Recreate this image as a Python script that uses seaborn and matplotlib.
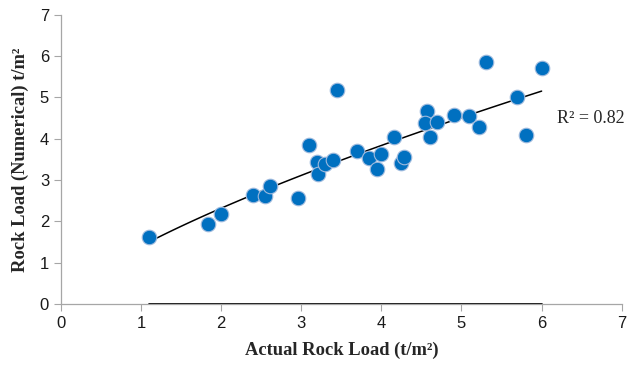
import numpy as np
import pandas as pd
import matplotlib
matplotlib.use('Agg')
import matplotlib.pyplot as plt
import seaborn as sns

# values
actual_load = [1.10, 1.83, 2.00, 2.40, 2.55, 2.61, 2.96, 3.10, 3.20, 3.21, 3.30, 3.40,
               3.45, 3.70, 3.84, 3.94, 4.00, 4.16, 4.25, 4.28, 4.57, 4.55, 4.61, 4.70,
               4.91, 5.09, 5.22, 5.31, 5.69, 5.81, 6.00]
numerical_load = [1.63, 1.93, 2.17, 2.63, 2.62, 2.86, 2.56, 3.85, 3.44, 3.15, 3.39, 3.48,
                  5.18, 3.71, 3.54, 3.27, 3.64, 4.05, 3.41, 3.57, 4.68, 4.38, 4.05, 4.40,
                  4.57, 4.56, 4.28, 5.86, 5.01, 4.08, 5.72]
r2_label = 'R² = 0.82'
x_ticks = list(range(0, 8))
y_ticks = list(range(0, 8))

df = pd.DataFrame({'actual': actual_load, 'numerical': numerical_load})

# power trendline (y = a * x^b), fitted in log space like a spreadsheet trendline
b, log_a = np.polyfit(np.log(df['actual']), np.log(df['numerical']), 1)
trend = pd.DataFrame({'actual': np.linspace(df['actual'].min(), df['actual'].max(), 100)})
trend['numerical'] = np.exp(log_a) * trend['actual'] ** b

sns.set_style('white')
plt.rcParams['font.family'] = ['Liberation Sans', 'DejaVu Sans']

fig = plt.figure(figsize=(6.28, 3.72), dpi=100)
ax = fig.add_axes([0.097, 0.183, 0.893, 0.777])

sns.lineplot(data=trend, x='actual', y='numerical', ax=ax, color='black', lw=1.1)
sns.scatterplot(data=df, x='actual', y='numerical', ax=ax, s=110, color='#0070C0',
                edgecolor='#9DB9DD', linewidth=0.8, zorder=3)
# second (zero) series drawn as a flat line along the x-axis
ax.plot([df['actual'].min(), df['actual'].max()], [0, 0], color='black', lw=1.2, zorder=4)

ax.set_xlim(0, 7)
ax.set_ylim(0, 7)
ax.set_xticks(x_ticks)
ax.set_yticks(y_ticks)
ax.tick_params(axis='both', direction='out', length=5, width=0.8, color='#A6A6A6',
               labelsize=12, labelcolor='#1a1a1a', bottom=True, left=True)
for side in ['top', 'right']:
    ax.spines[side].set_visible(False)
for side in ['left', 'bottom']:
    ax.spines[side].set_color('#A6A6A6')
    ax.spines[side].set_linewidth(0.9)

ax.set_xlabel('Actual Rock Load (t/m²)', family='Liberation Serif', fontweight='bold',
              fontsize=13.3, labelpad=8)
ax.set_ylabel('Rock Load (Numerical) t/m²', family='Liberation Serif', fontweight='bold',
              fontsize=13.3, labelpad=8)
ax.text(6.19, 4.5, r2_label, family='Liberation Serif', fontsize=13, va='center', ha='left')

fig.savefig('out.png', dpi=100)
